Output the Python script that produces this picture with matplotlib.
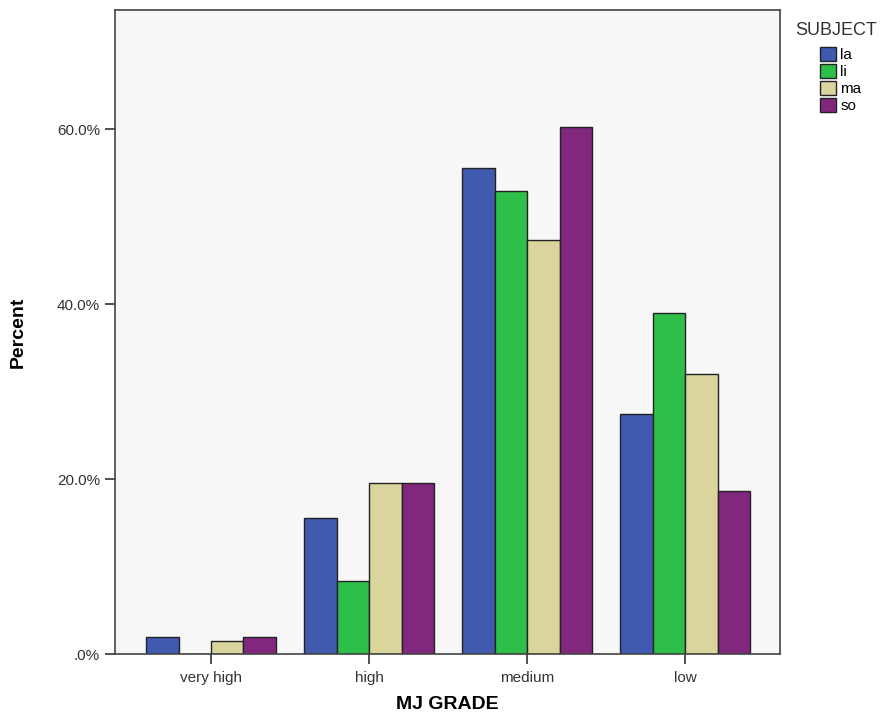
import matplotlib
matplotlib.use('Agg')
import matplotlib.pyplot as plt
import numpy as np

plt.rcParams['font.family'] = ['Liberation Sans', 'DejaVu Sans']

grades = ['very high', 'high', 'medium', 'low']
subjects = ['la', 'li', 'ma', 'so']
la = [1.9, 15.5, 55.5, 27.4]
li = [0.0, 8.3, 52.9, 39.0]
ma = [1.5, 19.5, 47.3, 32.0]
so = [1.9, 19.5, 60.2, 18.6]
colors = ['#3F5AAE', '#2EBE4A', '#DAD59D', '#81287E']
yticks = [0, 20, 40, 60]
ytick_labels = ['.0%', '20.0%', '40.0%', '60.0%']

fig = plt.figure(figsize=(8.96, 7.18), dpi=100)
ax = fig.add_axes([0.128, 0.089, 0.7425, 0.897])
ax.set_facecolor('#F7F7F7')

x = np.arange(len(grades))
w = 0.205
for i, (vals, c, name) in enumerate(zip([la, li, ma, so], colors, subjects)):
    ax.bar(x + (i - 1.5) * w, vals, w, color=c, edgecolor='#222222',
           linewidth=1.0, label=name, zorder=2)

ax.set_xlim(-0.61, 3.6)
ax.set_ylim(0, 73.6)
ax.set_xticks(x)
ax.set_xticklabels(grades, fontsize=11, color='#333333')
ax.set_yticks(yticks)
ax.set_yticklabels(ytick_labels, fontsize=11, color='#333333')
ax.tick_params(axis='both', length=7, width=1.2, color='#333333', direction='out')
ax.tick_params(axis='x', pad=5)
for s in ax.spines.values():
    s.set_color('#444444')
    s.set_linewidth(1.2)

ax.set_xlabel('MJ GRADE', fontsize=14, fontweight='bold', labelpad=8)
ax.set_ylabel('Percent', fontsize=14, fontweight='bold', labelpad=22)

# legend title and entries placed separately, entries indented as in SPSS
fig.text(0.888, 0.958, 'SUBJECT', fontsize=13, color='#333333', va='center')
leg = ax.legend(loc='upper left', bbox_to_anchor=(0.9155, 0.934),
                bbox_transform=fig.transFigure,
                frameon=False, fontsize=11, borderpad=0, borderaxespad=0,
                handlelength=1.0, handleheight=1.0, handletextpad=0.3,
                labelspacing=0.12)
for h in leg.legend_handles:
    h.set_edgecolor('#222222')

fig.savefig('out.png', dpi=100)
